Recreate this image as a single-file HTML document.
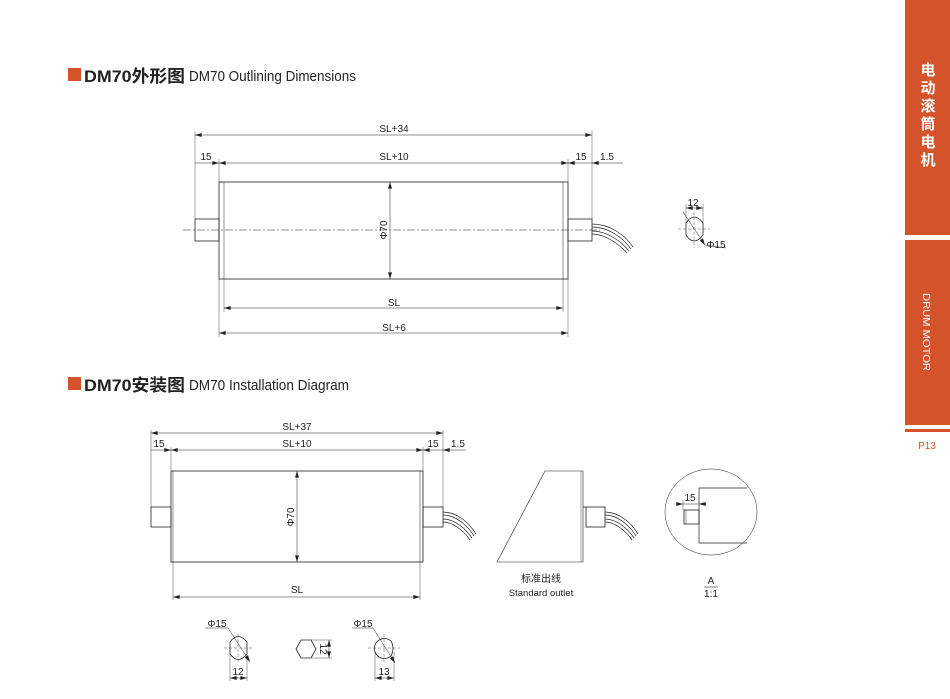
<!DOCTYPE html>
<html><head><meta charset="utf-8"><style>
html,body{margin:0;padding:0;background:#fff;}
svg{display:block;}
text{font-family:"Liberation Sans","Noto Sans CJK SC",sans-serif;}
</style></head><body>
<svg width="950" height="699" viewBox="0 0 950 699" xmlns="http://www.w3.org/2000/svg">
<defs>
<marker id="a" viewBox="0 0 10 6" refX="10" refY="3" markerWidth="7" markerHeight="4" orient="auto-start-reverse" markerUnits="userSpaceOnUse"><path d="M0,0L10,3L0,6z" fill="#222"/></marker>
</defs>
<!-- sidebar -->
<rect x="905" y="0" width="45" height="235" fill="#d4532a"/>
<rect x="905" y="240" width="45" height="185" fill="#d4532a"/>
<rect x="905" y="429" width="45" height="3" fill="#d4532a"/>
<g fill="#fff" font-weight="bold" font-size="15" text-anchor="middle">
<text x="928" y="75">电</text><text x="928" y="93">动</text><text x="928" y="111">滚</text><text x="928" y="129">筒</text><text x="928" y="147">电</text><text x="928" y="165">机</text>
</g>
<text x="0" y="0" transform="translate(923,293) rotate(90)" fill="#fff" font-size="10" textLength="78" lengthAdjust="spacingAndGlyphs">DRUM MOTOR</text>
<text x="927" y="449" fill="#d4532a" font-size="10" text-anchor="middle">P13</text>

<!-- headers -->
<rect x="68" y="68" width="13" height="13" fill="#d4532a"/>
<text x="84" y="82" font-size="17" font-weight="bold" fill="#222" textLength="101" lengthAdjust="spacingAndGlyphs">DM70外形图</text>
<text x="189" y="81" font-size="15" fill="#222" textLength="167" lengthAdjust="spacingAndGlyphs">DM70 Outlining Dimensions</text>
<rect x="68" y="377" width="13" height="13" fill="#d4532a"/>
<text x="84" y="391" font-size="17" font-weight="bold" fill="#222" textLength="101" lengthAdjust="spacingAndGlyphs">DM70安装图</text>
<text x="189" y="390" font-size="15" fill="#222" textLength="160" lengthAdjust="spacingAndGlyphs">DM70 Installation Diagram</text>

<g stroke="#222" fill="none" stroke-width="0.8">
<!-- TOP DRAWING -->
<rect x="219" y="182" width="349" height="97"/>
<line x1="224" y1="182" x2="224" y2="279" stroke-width="0.5"/>
<line x1="563" y1="182" x2="563" y2="279" stroke-width="0.5"/>
<rect x="195" y="219" width="24" height="22"/>
<rect x="568" y="219" width="24" height="22"/>
<line x1="183" y1="230" x2="600" y2="230" stroke-width="0.5" stroke-dasharray="8,2,2,2"/>
<path d="M592,224 C610,224 625,235 633,247 M592,227 C609,227 623,238 631,249 M592,231 C607,231 621,241 629,251 M592,234 C605,234 619,244 627,253" stroke-width="0.7"/>
<line x1="195" y1="131" x2="195" y2="219" stroke-width="0.4"/>
<line x1="592" y1="131" x2="592" y2="219" stroke-width="0.4"/>
<line x1="219" y1="159" x2="219" y2="182" stroke-width="0.4"/>
<line x1="568" y1="159" x2="568" y2="182" stroke-width="0.4"/>
<line x1="219" y1="279" x2="219" y2="337" stroke-width="0.4"/>
<line x1="568" y1="279" x2="568" y2="337" stroke-width="0.4"/>
<line x1="224" y1="279" x2="224" y2="312" stroke-width="0.4"/>
<line x1="563" y1="279" x2="563" y2="312" stroke-width="0.4"/>
<line x1="195" y1="135" x2="592" y2="135" stroke-width="0.5" marker-start="url(#a)" marker-end="url(#a)"/>
<line x1="219" y1="163" x2="568" y2="163" stroke-width="0.5" marker-start="url(#a)" marker-end="url(#a)"/>
<line x1="195" y1="163" x2="219" y2="163" stroke-width="0.5" marker-end="url(#a)"/>
<line x1="568" y1="163" x2="592" y2="163" stroke-width="0.5" marker-start="url(#a)"/>
<line x1="592" y1="163" x2="623" y2="163" stroke-width="0.5" marker-start="url(#a)"/>
<line x1="390" y1="182" x2="390" y2="279" stroke-width="0.5" marker-start="url(#a)" marker-end="url(#a)"/>
<line x1="224" y1="308" x2="563" y2="308" stroke-width="0.5" marker-start="url(#a)" marker-end="url(#a)"/>
<line x1="219" y1="333" x2="568" y2="333" stroke-width="0.5" marker-start="url(#a)" marker-end="url(#a)"/>
<!-- top small -->
<path d="M686,223 Q694,211 703,223 L703,235 Q694,247 686,235 Z"/>
<line x1="678" y1="229" x2="710" y2="229" stroke-width="0.4" stroke-dasharray="3,2"/>
<line x1="694" y1="212" x2="694" y2="248" stroke-width="0.4" stroke-dasharray="3,2"/>
<line x1="686" y1="204" x2="686" y2="223" stroke-width="0.4"/>
<line x1="703" y1="204" x2="703" y2="223" stroke-width="0.4"/>
<line x1="686" y1="208" x2="703" y2="208" stroke-width="0.5" marker-start="url(#a)" marker-end="url(#a)"/>
<line x1="683" y1="212" x2="705" y2="245" stroke-width="0.5" marker-end="url(#a)"/>
<line x1="705" y1="245" x2="726" y2="248" stroke-width="0.5"/>

<!-- BOTTOM DRAWING -->
<rect x="171" y="471" width="252" height="91"/>
<line x1="173" y1="471" x2="173" y2="562" stroke-width="0.5"/>
<line x1="420" y1="471" x2="420" y2="562" stroke-width="0.5"/>
<rect x="151" y="507" width="20" height="20"/>
<rect x="423" y="507" width="20" height="20"/>
<path d="M443,512 C458,512 470,524 476,534 M443,515 C456,515 468,526 474,536 M443,519 C455,519 466,529 472,538 M443,522 C453,522 464,531 470,540" stroke-width="0.7"/>
<line x1="151" y1="430" x2="151" y2="507" stroke-width="0.4"/>
<line x1="443" y1="430" x2="443" y2="507" stroke-width="0.4"/>
<line x1="171" y1="447" x2="171" y2="471" stroke-width="0.4"/>
<line x1="423" y1="447" x2="423" y2="471" stroke-width="0.4"/>
<line x1="173" y1="562" x2="173" y2="600" stroke-width="0.4"/>
<line x1="420" y1="562" x2="420" y2="600" stroke-width="0.4"/>
<line x1="151" y1="433" x2="443" y2="433" stroke-width="0.5" marker-start="url(#a)" marker-end="url(#a)"/>
<line x1="171" y1="450" x2="423" y2="450" stroke-width="0.5" marker-start="url(#a)" marker-end="url(#a)"/>
<line x1="151" y1="450" x2="171" y2="450" stroke-width="0.5" marker-end="url(#a)"/>
<line x1="423" y1="450" x2="443" y2="450" stroke-width="0.5" marker-start="url(#a)"/>
<line x1="443" y1="450" x2="466" y2="450" stroke-width="0.5" marker-start="url(#a)"/>
<line x1="297" y1="471" x2="297" y2="562" stroke-width="0.5" marker-start="url(#a)" marker-end="url(#a)"/>
<line x1="173" y1="597" x2="420" y2="597" stroke-width="0.5" marker-start="url(#a)" marker-end="url(#a)"/>

<!-- standard outlet -->
<path d="M497,562 L545,471 L583,471 L583,562 Z" stroke-width="0.6"/>
<line x1="581" y1="471" x2="581" y2="562" stroke-width="0.4"/>
<rect x="586" y="507" width="19" height="20"/>
<line x1="583" y1="507" x2="586" y2="507"/>
<path d="M605,512 C620,512 632,524 638,534 M605,515 C618,515 630,526 636,536 M605,519 C617,519 628,529 634,538 M605,522 C615,522 626,531 632,540" stroke-width="0.7"/>

<!-- detail circle -->
<ellipse cx="711" cy="512" rx="46" ry="43" stroke-width="0.5"/>
<path d="M747,488 L699,488 L699,543 L747,543" stroke-width="0.7"/>
<rect x="684" y="510" width="15" height="14"/>
<line x1="686" y1="510" x2="686" y2="524" stroke-width="0.4"/>
<line x1="683" y1="500" x2="683" y2="510" stroke-width="0.4"/>
<line x1="676" y1="504" x2="683" y2="504" stroke-width="0.5" marker-end="url(#a)"/>
<line x1="699" y1="504" x2="706" y2="504" stroke-width="0.5" marker-start="url(#a)"/>
<line x1="683" y1="504" x2="699" y2="504" stroke-width="0.5"/>
<line x1="704" y1="587" x2="718" y2="587" stroke-width="0.6"/>

<!-- bottom small 1 -->
<path d="M230,642 Q238,631 247,642 L247,654 Q238,665 230,654 Z"/>
<line x1="224" y1="648" x2="253" y2="648" stroke-width="0.4" stroke-dasharray="3,2"/>
<line x1="238" y1="634" x2="238" y2="662" stroke-width="0.4" stroke-dasharray="3,2"/>
<line x1="205" y1="628" x2="228" y2="628" stroke-width="0.5"/>
<line x1="228" y1="628" x2="250" y2="662" stroke-width="0.5" marker-end="url(#a)"/>
<line x1="230" y1="654" x2="230" y2="681" stroke-width="0.4"/>
<line x1="247" y1="654" x2="247" y2="681" stroke-width="0.4"/>
<line x1="230" y1="678" x2="247" y2="678" stroke-width="0.5" marker-start="url(#a)" marker-end="url(#a)"/>
<!-- hexagon -->
<path d="M301,640 L311,640 L316,649 L311,658 L301,658 L296,649 Z"/>
<line x1="311" y1="640" x2="332" y2="640" stroke-width="0.4"/>
<line x1="311" y1="658" x2="332" y2="658" stroke-width="0.4"/>
<line x1="329" y1="640" x2="329" y2="658" stroke-width="0.5" marker-start="url(#a)" marker-end="url(#a)"/>
<!-- bottom small 2 -->
<path d="M391,641 A10,10 0 1 0 391,656 Q395,648 391,641 Z"/>
<line x1="368" y1="648" x2="400" y2="648" stroke-width="0.4" stroke-dasharray="3,2"/>
<line x1="384" y1="634" x2="384" y2="662" stroke-width="0.4" stroke-dasharray="3,2"/>
<line x1="352" y1="628" x2="373" y2="628" stroke-width="0.5"/>
<line x1="373" y1="628" x2="395" y2="663" stroke-width="0.5" marker-end="url(#a)"/>
<line x1="375" y1="652" x2="375" y2="681" stroke-width="0.4"/>
<line x1="394" y1="652" x2="394" y2="681" stroke-width="0.4"/>
<line x1="375" y1="678" x2="394" y2="678" stroke-width="0.5" marker-start="url(#a)" marker-end="url(#a)"/>
</g>

<g fill="#222" font-size="10" text-anchor="middle">
<text x="394" y="132">SL+34</text>
<text x="394" y="160">SL+10</text>
<text x="206" y="160">15</text>
<text x="581" y="160">15</text>
<text x="607" y="160">1.5</text>
<text x="394" y="306">SL</text>
<text x="394" y="331">SL+6</text>
<text x="0" y="0" transform="translate(387,230) rotate(-90)">Φ70</text>
<text x="693" y="206">12</text>
<text x="716" y="248">Φ15</text>

<text x="297" y="430">SL+37</text>
<text x="297" y="447">SL+10</text>
<text x="159" y="447">15</text>
<text x="433" y="447">15</text>
<text x="458" y="447">1.5</text>
<text x="0" y="0" transform="translate(294,517) rotate(-90)">Φ70</text>
<text x="297" y="593">SL</text>
<text x="541" y="582">标准出线</text>
<text x="541" y="596" font-size="9.5">Standard outlet</text>
<text x="690" y="501">15</text>
<text x="711" y="584">A</text>
<text x="711" y="597">1:1</text>
<text x="217" y="627">Φ15</text>
<text x="238" y="675">12</text>
<text x="0" y="0" transform="translate(320,649) rotate(90)">12</text>
<text x="363" y="627">Φ15</text>
<text x="384" y="675">13</text>
</g>
</svg>
</body></html>
